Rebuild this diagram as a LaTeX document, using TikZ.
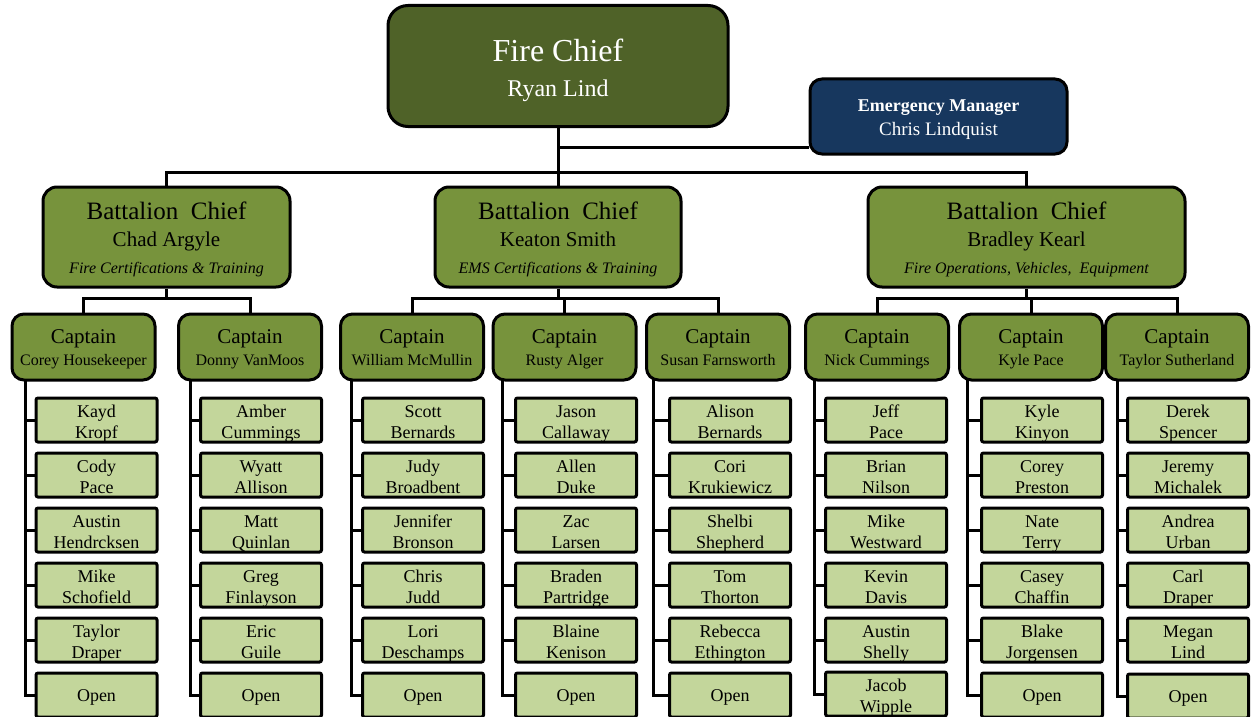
\documentclass[tikz,border=0pt]{standalone}
\usepackage{fontspec}
\setmainfont{Liberation Serif}
\usetikzlibrary{backgrounds}
\definecolor{chiefgreen}{RGB}{79,98,40}
\definecolor{mgrblue}{RGB}{23,55,94}
\definecolor{bcgreen}{RGB}{119,147,60}
\definecolor{crewgreen}{RGB}{195,214,155}
\tikzset{
    orgbox/.style={draw=black, line width=3pt, align=center, inner sep=2pt},
    chiefnode/.style={orgbox, rounded corners=20pt, fill=chiefgreen, text=white, minimum width=340pt, minimum height=121pt, text height=65pt, text depth=5pt, font=\fontsize{32}{35}\selectfont},
    mgrnode/.style={orgbox, rounded corners=12pt, fill=mgrblue, text=white, minimum width=257pt, minimum height=75pt, text height=42.5pt, text depth=4.5pt, font=\fontsize{18}{24}\selectfont},
    bcnode/.style={orgbox, rounded corners=14pt, fill=bcgreen, minimum height=100pt, text height=76pt, text depth=3.5pt, font=\fontsize{25}{27}\selectfont},
    capnode/.style={orgbox, rounded corners=12pt, fill=bcgreen, minimum width=143pt, minimum height=66pt, text height=40pt, text depth=4pt, font=\fontsize{21}{22}\selectfont},
    crewnode/.style={orgbox, inner ysep=0pt, rounded corners=2pt, fill=crewgreen, minimum width=121pt, minimum height=44pt, text height=40pt, text depth=4pt, font=\fontsize{18}{21}\selectfont},
    opennode/.style={crewnode, text height=16pt, text depth=4pt},
    link/.style={line width=3pt}
}

\begin{document}
\begin{tikzpicture}[x=1pt, y=-1pt]
    \useasboundingbox (0,0) rectangle (1251,717);

    \node[chiefnode] (fchief) at (558,66) {Fire Chief\\{\fontsize{24}{35}\selectfont Ryan Lind}};
    \node[mgrnode] (emgr) at (938.5,116.5) {\textbf{Emergency Manager}\\{\fontsize{19}{24}\selectfont Chris Lindquist}};

    \node[bcnode, minimum width=247pt] (bc1) at (166.5,237) {Battalion\ \ Chief\\{\fontsize{21}{27}\selectfont Chad Argyle}\\{\fontsize{16}{27}\selectfont\itshape Fire Certifications \& Training}};
    \node[bcnode, minimum width=246pt] (bc2) at (558,237) {Battalion\ \ Chief\\{\fontsize{21}{27}\selectfont Keaton Smith}\\{\fontsize{16}{27}\selectfont\itshape EMS Certifications \& Training}};
    \node[bcnode, minimum width=317pt] (bc3) at (1026.5,237) {Battalion\ \ Chief\\{\fontsize{21}{27}\selectfont Bradley Kearl}\\{\fontsize{16}{27}\selectfont\itshape Fire Operations, Vehicles,\ \ Equipment}};

    \node[capnode] (cap1) at (83.5,347) {Captain\\{\fontsize{16}{22}\selectfont Corey Housekeeper}};
    \node[capnode] (cap2) at (250,347) {Captain\\{\fontsize{16}{22}\selectfont Donny VanMoos}};
    \node[capnode] (cap3) at (412,347) {Captain\\{\fontsize{16}{22}\selectfont William McMullin}};
    \node[capnode] (cap4) at (564.5,347) {Captain\\{\fontsize{16}{22}\selectfont Rusty Alger}};
    \node[capnode] (cap5) at (718,347) {Captain\\{\fontsize{16}{22}\selectfont Susan Farnsworth}};
    \node[capnode] (cap6) at (877,347) {Captain\\{\fontsize{16}{22}\selectfont Nick Cummings}};
    \node[capnode] (cap7) at (1031,347) {Captain\\{\fontsize{16}{22}\selectfont Kyle Pace}};
    \node[capnode] (cap8) at (1177,347) {Captain\\{\fontsize{16}{22}\selectfont Taylor Sutherland}};

    \node[crewnode] (m1a) at (96.5,420) {Kayd\\Kropf};
    \node[crewnode] (m1b) at (96.5,475) {Cody\\Pace};
    \node[crewnode] (m1c) at (96.5,530) {Austin\\Hendrcksen};
    \node[crewnode] (m1d) at (96.5,585) {Mike\\Schofield};
    \node[crewnode] (m1e) at (96.5,640) {Taylor\\Draper};
    \node[opennode] (m1f) at (96.5,695) {Open};

    \node[crewnode] (m2a) at (261,420) {Amber\\Cummings};
    \node[crewnode] (m2b) at (261,475) {Wyatt\\Allison};
    \node[crewnode] (m2c) at (261,530) {Matt\\Quinlan};
    \node[crewnode] (m2d) at (261,585) {Greg\\Finlayson};
    \node[crewnode] (m2e) at (261,640) {Eric\\Guile};
    \node[opennode] (m2f) at (261,695) {Open};

    \node[crewnode] (m3a) at (423,420) {Scott\\Bernards};
    \node[crewnode] (m3b) at (423,475) {Judy\\Broadbent};
    \node[crewnode] (m3c) at (423,530) {Jennifer\\Bronson};
    \node[crewnode] (m3d) at (423,585) {Chris\\Judd};
    \node[crewnode] (m3e) at (423,640) {Lori\\Deschamps};
    \node[opennode] (m3f) at (423,695) {Open};

    \node[crewnode] (m4a) at (576,420) {Jason\\Callaway};
    \node[crewnode] (m4b) at (576,475) {Allen\\Duke};
    \node[crewnode] (m4c) at (576,530) {Zac\\Larsen};
    \node[crewnode] (m4d) at (576,585) {Braden\\Partridge};
    \node[crewnode] (m4e) at (576,640) {Blaine\\Kenison};
    \node[opennode] (m4f) at (576,695) {Open};

    \node[crewnode] (m5a) at (730,420) {Alison\\Bernards};
    \node[crewnode] (m5b) at (730,475) {Cori\\Krukiewicz};
    \node[crewnode] (m5c) at (730,530) {Shelbi\\Shepherd};
    \node[crewnode] (m5d) at (730,585) {Tom\\Thorton};
    \node[crewnode] (m5e) at (730,640) {Rebecca\\Ethington};
    \node[opennode] (m5f) at (730,695) {Open};

    \node[crewnode] (m6a) at (886,420) {Jeff\\Pace};
    \node[crewnode] (m6b) at (886,475) {Brian\\Nilson};
    \node[crewnode] (m6c) at (886,530) {Mike\\Westward};
    \node[crewnode] (m6d) at (886,585) {Kevin\\Davis};
    \node[crewnode] (m6e) at (886,640) {Austin\\Shelly};
    \node[crewnode] (m6f) at (886,694) {Jacob\\Wipple};

    \node[crewnode] (m7a) at (1042,420) {Kyle\\Kinyon};
    \node[crewnode] (m7b) at (1042,475) {Corey\\Preston};
    \node[crewnode] (m7c) at (1042,530) {Nate\\Terry};
    \node[crewnode] (m7d) at (1042,585) {Casey\\Chaffin};
    \node[crewnode] (m7e) at (1042,640) {Blake\\Jorgensen};
    \node[opennode] (m7f) at (1042,695) {Open};

    \node[crewnode] (m8a) at (1188,420) {Derek\\Spencer};
    \node[crewnode] (m8b) at (1188,475) {Jeremy\\Michalek};
    \node[crewnode] (m8c) at (1188,530) {Andrea\\Urban};
    \node[crewnode] (m8d) at (1188,585) {Carl\\Draper};
    \node[crewnode] (m8e) at (1188,640) {Megan\\Lind};
    \node[opennode] (m8f) at (1188,696) {Open};

    \coordinate (topbus) at (558,172);
    \coordinate (emlink) at (558,147);
    \coordinate (bus1) at (166.5,298);
    \coordinate (bus2) at (558,298);
    \coordinate (bus3) at (1026.5,298);
    \coordinate (sp1) at (25,380);
    \coordinate (sp2) at (190,380);
    \coordinate (sp3) at (351,380);
    \coordinate (sp4) at (502,380);
    \coordinate (sp5) at (653,380);
    \coordinate (sp6) at (814,380);
    \coordinate (sp7) at (967,380);
    \coordinate (sp8) at (1117,380);

    \begin{scope}[on background layer]
        \draw[link] (fchief) -- (topbus);
        \draw[link] (emlink) -- (emgr.west |- emlink);
        \draw[link] (bc1) |- (topbus) -| (bc3);
        \draw[link] (topbus) -- (bc2);

        \draw[link] (bc1) -- (bus1);
        \draw[link] (cap1) |- (bus1) -| (cap2);
        \draw[link] (bc2) -- (bus2);
        \draw[link] (cap3) |- (bus2) -| (cap5);
        \draw[link] (bus2) -| (cap4);
        \draw[link] (bc3) -- (bus3);
        \draw[link] (cap6) |- (bus3) -| (cap8);
        \draw[link] (bus3) -| (cap7);

        \draw[link] (sp1) |- (m1a) (sp1) |- (m1b) (sp1) |- (m1c) (sp1) |- (m1d) (sp1) |- (m1e) (sp1) |- (m1f);
        \draw[link] (sp2) |- (m2a) (sp2) |- (m2b) (sp2) |- (m2c) (sp2) |- (m2d) (sp2) |- (m2e) (sp2) |- (m2f);
        \draw[link] (sp3) |- (m3a) (sp3) |- (m3b) (sp3) |- (m3c) (sp3) |- (m3d) (sp3) |- (m3e) (sp3) |- (m3f);
        \draw[link] (sp4) |- (m4a) (sp4) |- (m4b) (sp4) |- (m4c) (sp4) |- (m4d) (sp4) |- (m4e) (sp4) |- (m4f);
        \draw[link] (sp5) |- (m5a) (sp5) |- (m5b) (sp5) |- (m5c) (sp5) |- (m5d) (sp5) |- (m5e) (sp5) |- (m5f);
        \draw[link] (sp6) |- (m6a) (sp6) |- (m6b) (sp6) |- (m6c) (sp6) |- (m6d) (sp6) |- (m6e) (sp6) |- (m6f);
        \draw[link] (sp7) |- (m7a) (sp7) |- (m7b) (sp7) |- (m7c) (sp7) |- (m7d) (sp7) |- (m7e) (sp7) |- (m7f);
        \draw[link] (sp8) |- (m8a) (sp8) |- (m8b) (sp8) |- (m8c) (sp8) |- (m8d) (sp8) |- (m8e) (sp8) |- (m8f);
    \end{scope}
\end{tikzpicture}
\end{document}
